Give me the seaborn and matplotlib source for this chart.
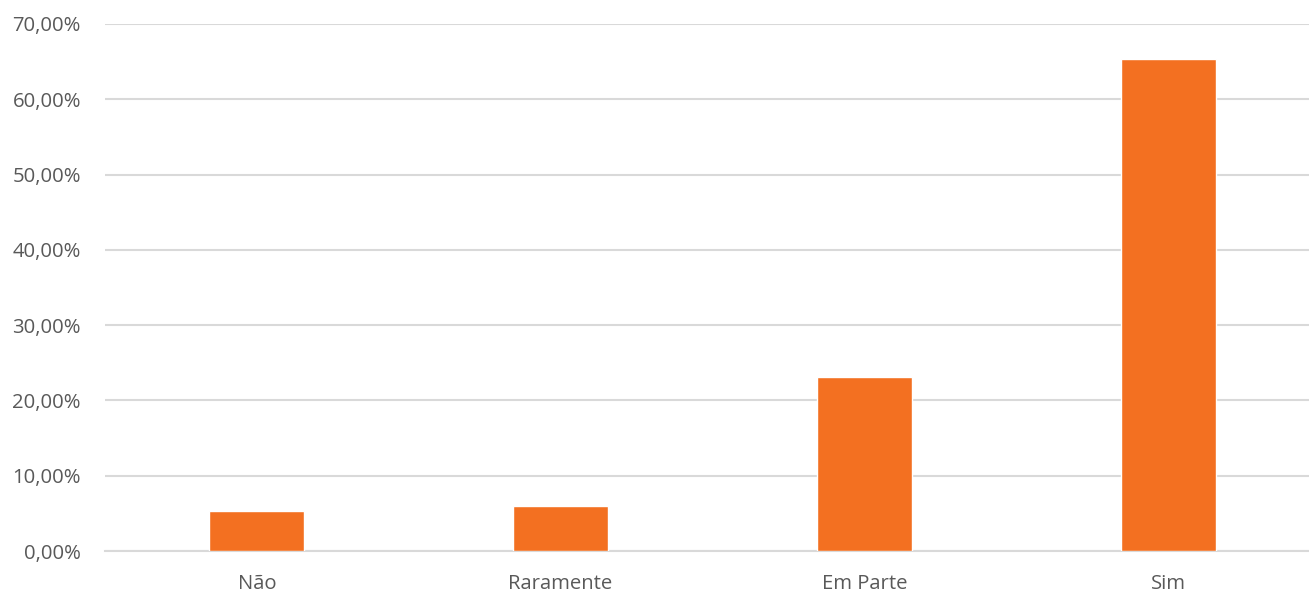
import matplotlib
matplotlib.use("Agg")
import matplotlib.pyplot as plt
import seaborn as sns
import pandas as pd
from matplotlib.ticker import FuncFormatter

categories = ["Não", "Raramente", "Em Parte", "Sim"]
values = [0.0537, 0.0600, 0.2315, 0.6536]
yticks = [0.0, 0.1, 0.2, 0.3, 0.4, 0.5, 0.6, 0.7]

sns.set_theme(style="white")
plt.rcParams['font.family'] = ['Open Sans', 'DejaVu Sans']

W, H = 1309, 592
fig = plt.figure(figsize=(W / 100, H / 100), dpi=100)
ax = fig.add_axes([105 / W, 41 / H, (1309 - 105) / W, (551 - 24) / H])

df = pd.DataFrame({"cat": categories, "val": values})
sns.barplot(data=df, x="cat", y="val", color="#F37021", saturation=1,
            width=0.313, ax=ax, zorder=3)

ax.set_ylim(0, 0.70)
ax.set_xlim(-0.5, 3.464)
ax.set_yticks(yticks)
ax.yaxis.set_major_formatter(FuncFormatter(lambda v, p: f"{v*100:.2f}%".replace(".", ",")))
ax.grid(axis="y", color="#D9D9D9", linewidth=1.5, zorder=0)
ax.grid(axis="x", visible=False)
for s in ["top", "right", "left"]:
    ax.spines[s].set_visible(False)
ax.spines["bottom"].set_color("#D9D9D9")
ax.spines["bottom"].set_linewidth(1.5)
ax.set_xlabel("")
ax.set_ylabel("")
ax.tick_params(axis="y", length=0, pad=17.3, labelsize=14.6, labelcolor="#595959")
ax.tick_params(axis="x", length=0, pad=16.5, labelsize=14.6, labelcolor="#595959")

fig.savefig("out.png", dpi=100)
